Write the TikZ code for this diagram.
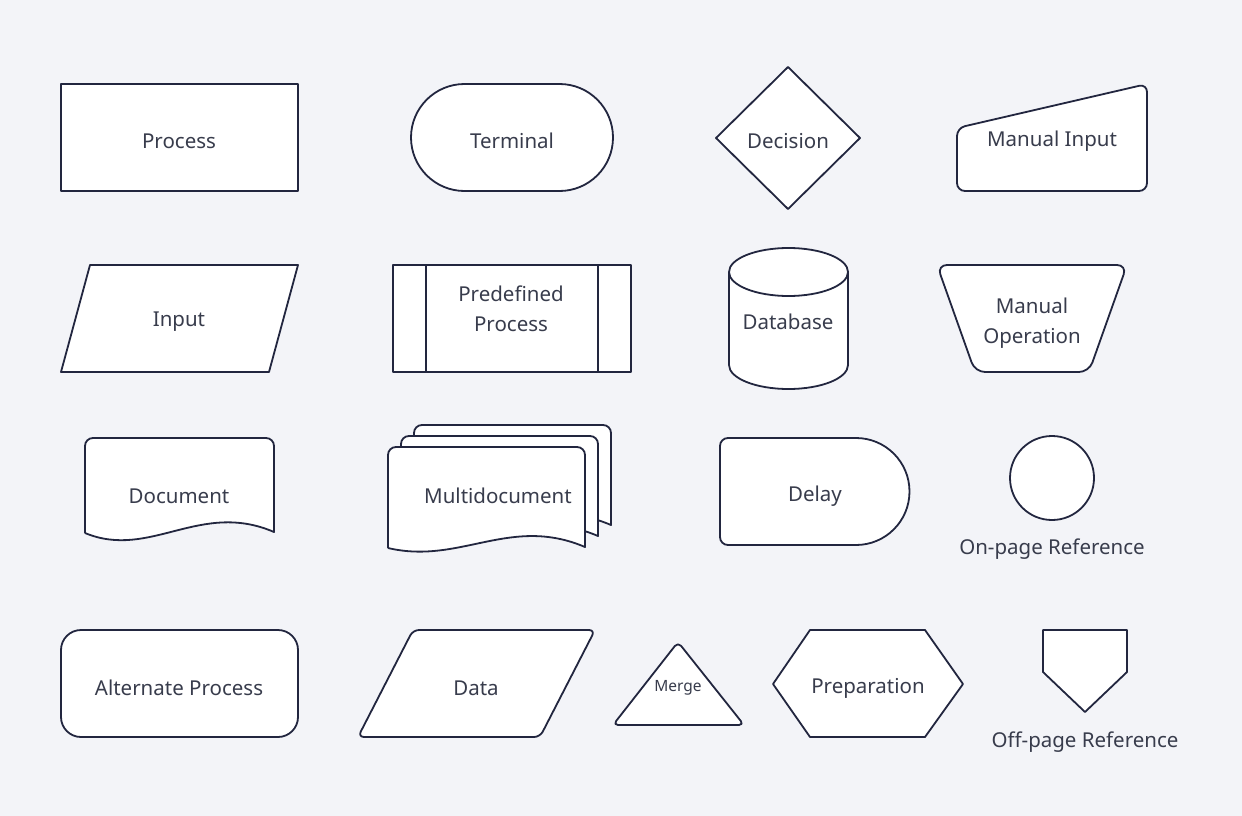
\documentclass[tikz,border=0pt]{standalone}
\usepackage{fontspec}
\setmainfont{Noto Sans}
\definecolor{bg}{HTML}{F3F4F8}
\definecolor{ln}{HTML}{22263F}
\definecolor{tx}{HTML}{383C4C}
\begin{document}
\begin{tikzpicture}[x=1pt,y=-1pt,
 shp/.style={draw=ln,fill=white,line width=1.8pt,line join=round},
 lbl/.style={text=tx,font=\fontsize{20.5}{25}\selectfont,align=center,inner sep=0pt,yshift=-2pt}]
\fill[bg] (0,0) rectangle (1242,816);
\useasboundingbox (0,0) rectangle (1242,816);
% Row 1
\draw[shp] (61,84) rectangle (298,191);
\node[lbl] (process) at (179,139) {Process};
\draw[shp,rounded corners=53.5pt] (411,84) rectangle (613,191);
\node[lbl] (terminal) at (512,139) {Terminal};
\draw[shp] (788,67) -- (860,138) -- (788,209) -- (716,138) -- cycle;
\node[lbl] (decision) at (788,139) {Decision};
\draw[shp,rounded corners=8pt] (957,191) -- (957,128) -- (1147,84) -- (1147,191) -- cycle;
\node[lbl] (minput) at (1052,139) {Manual Input};
% Row 2
\draw[shp] (61,372) -- (90,265) -- (298,265) -- (269,372) -- cycle;
\node[lbl] (input) at (179,320) {Input};
\draw[shp] (393,265) rectangle (631,372);
\draw[shp] (426,265) -- (426,372) (598,265) -- (598,372);
\node[lbl] (predef) at (511,307) {Predefined\\[5pt]Process};
\draw[shp] (729,272) -- (729,365) arc[start angle=180,end angle=0,x radius=59.5,y radius=24] -- (848,272) arc[start angle=0,end angle=-180,x radius=59.5,y radius=24] -- cycle;
\draw[shp] (729,272) arc[start angle=180,end angle=0,x radius=59.5,y radius=24];
\node[lbl] (database) at (788,320) {Database};
\draw[shp,rounded corners=10pt] (937,265) -- (1127,265) -- (1089,372) -- (975,372) -- cycle;
\node[lbl] (mop) at (1032,321) {Manual\\[5pt]Operation};
% Row 3
\draw[shp] (85,533) [rounded corners=8pt] -- (85,438) -- (274,438) [sharp corners] -- (274,532) .. controls (200,500) and (150,560) .. (85,533);
\node[lbl] (document) at (179,494) {Document};
\foreach \dx/\dy in {26/-22,13/-11,0/0}{
\begin{scope}[shift={(\dx,\dy)}]
\draw[shp] (388,548) [rounded corners=8pt] -- (388,447) -- (585,447) [sharp corners] -- (585,547) .. controls (510,515) and (460,565) .. (388,548);
\end{scope}}
\node[lbl] (multidoc) at (498,494) {Multidocument};
\draw[shp] (856,545) [rounded corners=8pt] -- (720,545) -- (720,438) [sharp corners] -- (856,438) arc[start angle=-90,end angle=90,radius=53.5];
\node[lbl] (delay) at (815,494) {Delay};
\draw[shp] (1052,478) circle[radius=42];
\node[lbl] (onpage) at (1052,547) {On-page Reference};
% Row 4
\draw[shp,rounded corners=20pt] (61,630) rectangle (298,737);
\node[lbl] (altproc) at (179,686) {Alternate Process};
\draw[shp,rounded corners=6pt] (358,737) -- (413,630) -- (595,630) -- (540,737) -- cycle;
\node[lbl] (data) at (476,686) {Data};
\draw[shp,rounded corners=5pt] (678,642) -- (744,725) -- (613,725) -- cycle;
\node[lbl,font=\fontsize{15.5}{18}\selectfont] (merge) at (678,686) {Merge};
\draw[shp] (773,684) -- (810,630) -- (925,630) -- (963,684) -- (925,737) -- (810,737) -- cycle;
\node[lbl] (prep) at (868,686) {Preparation};
\draw[shp] (1043,630) -- (1127,630) -- (1127,672) -- (1085,712) -- (1043,672) -- cycle;
\node[lbl] (offpage) at (1085,740) {Off-page Reference};
\end{tikzpicture}
\end{document}
